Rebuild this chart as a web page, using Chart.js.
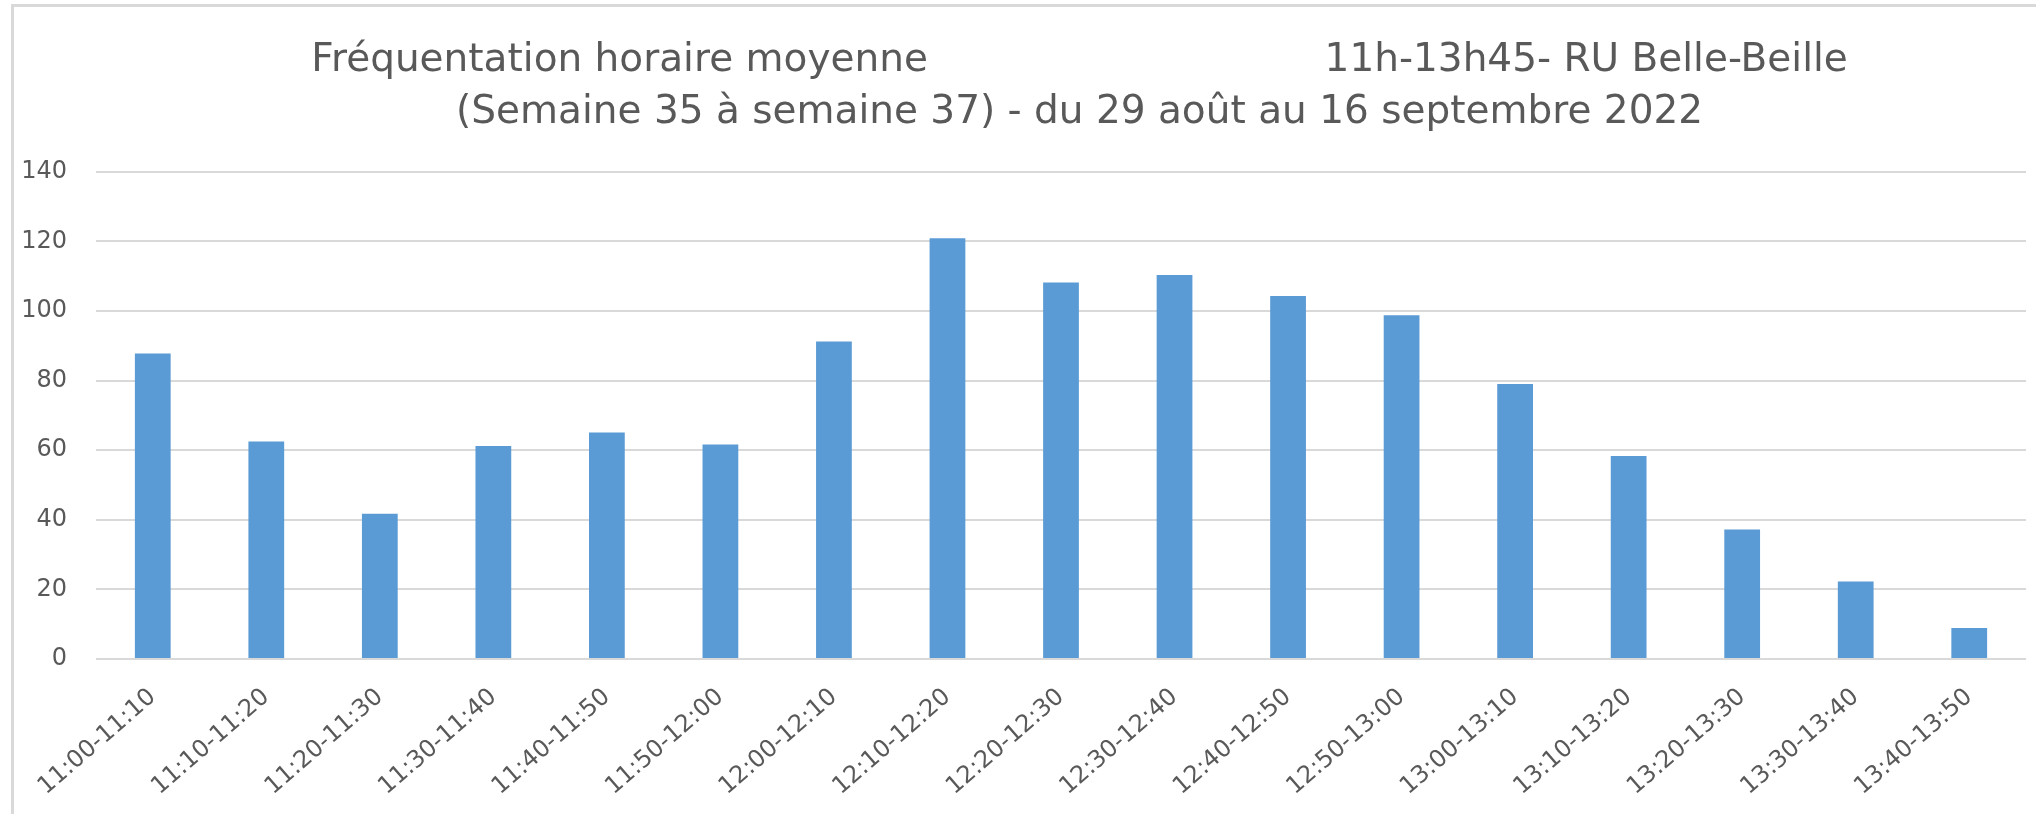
<!DOCTYPE html>
<html>
<head>
<meta charset="utf-8">
<script src="https://cdn.jsdelivr.net/npm/chart.js@4.4.0/dist/chart.umd.min.js"></script>
<style>
  html, body { margin: 0; padding: 0; background: #fff; }
  #wrap { position: relative; width: 2036px; height: 814px; }
  #frame { position: absolute; left: 11px; top: 4px; right: 0; bottom: 0;
           border-left: 3px solid #d9d9d9; border-top: 3px solid #d9d9d9; pointer-events: none; }
</style>
</head>
<body>
<div id="wrap">
  <canvas id="chart"></canvas>
  <div id="frame"></div>
</div>
<script>
// time slots (10 min)
var creneaux = ["11:00-11:10", "11:10-11:20", "11:20-11:30", "11:30-11:40", "11:40-11:50",
                "11:50-12:00", "12:00-12:10", "12:10-12:20", "12:20-12:30", "12:30-12:40",
                "12:40-12:50", "12:50-13:00", "13:00-13:10", "13:10-13:20", "13:20-13:30",
                "13:30-13:40", "13:40-13:50"];

// average visitors per slot
var frequentation = [87.8, 62.5, 41.7, 61.2, 65.1, 61.6, 91.2, 120.9, 108.2, 110.3,
                     104.3, 98.8, 79.0, 58.3, 37.2, 22.3, 8.9];

var yMin = 0, yMax = 140, yStep = 20;

var titre = [
    "   Fréquentation horaire moyenne" + " ".repeat(32) + "11h-13h45- RU Belle-Beille",
    "   (Semaine 35 à semaine 37) - du 29 août au 16 septembre 2022"
];

var gris = "#595959";

var ctx = document.getElementById("chart");

var chart = new Chart(ctx, {
    type: "bar",
    data: {
        labels: creneaux,
        datasets: [{
            data: frequentation,
            backgroundColor: "#5b9bd5",
            borderWidth: 0,
            barPercentage: 0.315,
            categoryPercentage: 1
        }]
    },
    options: {
        responsive: true,
        maintainAspectRatio: false,
        animation: false,
        layout: { padding: { left: 0, right: 10, top: 0, bottom: 0 } },
        plugins: {
            legend: { display: false },
            tooltip: { enabled: false },
            title: {
                display: true,
                text: titre,
                fullSize: false,
                color: gris,
                font: { family: "DejaVu Sans", size: 39, weight: "normal", lineHeight: 1.33 },
                padding: { top: 35, bottom: 33 }
            }
        },
        scales: {
            x: {
                grid: { display: false, drawTicks: false },
                border: { display: false },
                ticks: {
                    color: gris,
                    font: { family: "DejaVu Sans", size: 24 },
                    minRotation: 41,
                    maxRotation: 41,
                    autoSkip: false,
                    padding: 24
                },
                afterFit: function(scale) { scale.height = 155; }
            },
            y: {
                min: yMin,
                max: yMax,
                grid: { color: "#d9d9d9", lineWidth: 2, drawTicks: false },
                border: { display: false },
                ticks: {
                    stepSize: yStep,
                    color: gris,
                    font: { family: "DejaVu Sans", size: 24 },
                    padding: 29
                },
                afterFit: function(scale) { scale.width = 96; }
            }
        }
    }
});
</script>
</body>
</html>
